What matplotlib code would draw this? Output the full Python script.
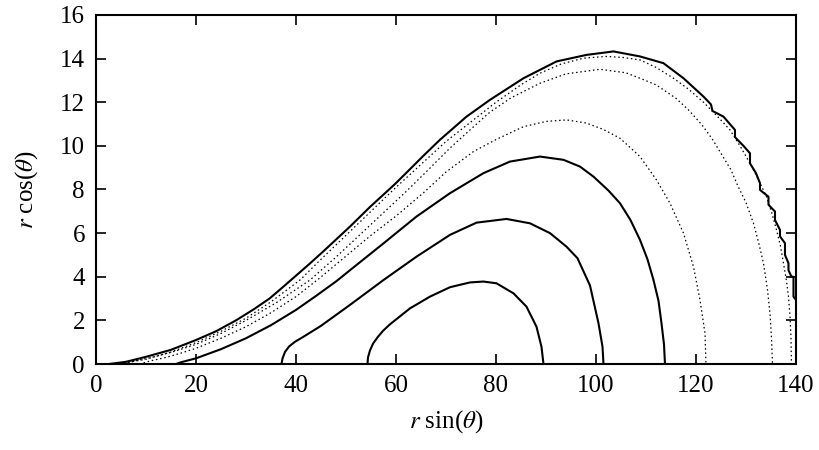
import matplotlib
matplotlib.use("Agg")
import matplotlib.pyplot as plt

plt.rcParams["font.family"] = ["Liberation Serif", "DejaVu Serif"]
plt.rcParams["mathtext.fontset"] = "stix"

# contour curves, inner to outer: (x = r sin, y = r cos)
c1_x = [54.3, 54.4, 54.8, 55.4, 56.3, 57.4, 58.8, 62.8, 66.8, 70.8, 74.8, 77.5, 80.1, 83.5, 86.1,
        88.1, 89.1, 89.5]
c1_y = [0, 0.3, 0.62, 0.93, 1.22, 1.52, 1.82, 2.55, 3.09, 3.52, 3.74, 3.78, 3.7, 3.24, 2.63,
        1.71, 0.79, 0]

c2_x = [37.1, 37.3, 37.8, 38.6, 39.8, 41.5, 45.0, 50.8, 57.5, 64.1, 70.8, 76.1, 82.1, 86.8, 90.8,
        94.1, 96.3, 98.8, 100.5, 101.3, 101.5]
c2_y = [0, 0.25, 0.55, 0.8, 1.02, 1.25, 1.75, 2.71, 3.85, 4.92, 5.92, 6.48, 6.65, 6.45, 6.0,
        5.38, 4.85, 3.6, 1.87, 0.8, 0]

c3_x = [16.0, 17.0, 20.0, 25.0, 30.0, 35.0, 40.0, 44.0, 48.1, 50.8, 57.5, 64.1, 70.8, 77.5, 82.8,
        88.8, 93.5, 96.8, 99.5, 102.5, 104.8, 106.9, 108.8, 110.3, 111.5, 112.5, 113.1, 113.6, 113.8]
c3_y = [0, 0.08, 0.26, 0.68, 1.18, 1.78, 2.48, 3.12, 3.8, 4.3, 5.53, 6.76, 7.83, 8.75, 9.28,
        9.51, 9.36, 9.05, 8.59, 7.95, 7.37, 6.6, 5.69, 4.8, 3.85, 2.9, 1.87, 0.9, 0]

c4_x = [8.7, 11.0, 14.0, 17.0, 20.0, 25.0, 30.0, 35.0, 40.0, 44.8, 50.8, 55.0, 60.1, 65.5, 70.0,
        75.5, 80.1, 85.5, 90.0, 94.1, 98.0, 101.5, 104.8, 108.8, 112.1, 114.8, 117.5, 119.5,
        120.8, 121.8, 122.0]
c4_y = [0, 0.15, 0.3, 0.5, 0.72, 1.18, 1.71, 2.35, 3.09, 3.95, 5.1, 5.9, 6.8, 7.85, 8.8,
        9.74, 10.3, 10.88, 11.12, 11.19, 11.05, 10.75, 10.35, 9.51, 8.44, 7.37, 6.0, 4.46,
        2.94, 1.41, 0]

c5_x = [5.5, 8.0, 12.0, 16.0, 20.0, 25.0, 30.0, 36.0, 42.8, 48.0, 55.0, 62.0, 66.0, 70.8, 74.8,
        78.8, 83.0, 88.8, 94.0, 100.8, 106.0, 108.8, 112.0, 116.0, 118.5, 121.2, 123.3, 125.2,
        127.0, 128.3, 130.0, 131.5, 132.6, 133.5, 134.3, 134.8, 135.1, 135.3]
c5_y = [0, 0.15, 0.35, 0.6, 0.9, 1.4, 2.0, 2.8, 3.85, 4.9, 6.4, 7.9, 8.8, 9.9, 10.73,
        11.55, 12.2, 12.87, 13.3, 13.51, 13.35, 13.1, 12.8, 12.18, 11.65, 10.96, 10.3, 9.58,
        8.9, 8.2, 7.4, 6.45, 5.5, 4.62, 3.4, 2.32, 1.2, 0]

c6_x = [4.0, 7.0, 10.0, 15.0, 20.0, 25.0, 30.0, 35.0, 40.8, 45.0, 50.0, 55.0, 60.0, 65.0, 70.0,
        75.5, 80.0, 85.0, 88.8, 93.0, 97.5, 102.0, 105.5, 108.8, 112.0, 115.5, 118.5, 121.5,
        124.5, 126.8, 128.8, 130.8, 132.5, 134.1, 135.2, 136.1, 136.9, 137.5, 138.1, 138.5,
        138.8, 139.0, 139.1]
c6_y = [0, 0.1, 0.22, 0.55, 0.98, 1.5, 2.1, 2.85, 3.85, 4.8, 5.9, 7.0, 8.1, 9.15, 10.2,
        11.19, 12.0, 12.8, 13.33, 13.75, 14.02, 14.1, 14.05, 13.94, 13.6, 13.1, 12.6, 12.0,
        11.3, 10.73, 10.0, 9.2, 8.45, 7.67, 6.9, 6.15, 5.4, 4.62, 3.8, 3.09,
        2.2, 1.2, 0]

outer_x = [2.6, 6.0, 10.0, 15.0, 20.0, 24.0, 28.0, 31.5, 34.7, 37.0, 39.5, 42.5, 45.5, 50.8, 54.8,
           59.8, 62.0, 65.5, 68.8, 74.1, 78.8, 85.5, 92.1, 98.1, 103.5, 108.8, 113.5, 117.5,
           121.5, 123.0, 123.3, 125.5, 127.8, 127.8, 129.5, 130.8, 130.8, 132.0, 132.8, 132.8,
           134.5, 134.5, 135.8, 135.8, 136.8, 136.8, 137.8, 137.8, 138.5, 138.5, 139.1, 139.5,
           139.5, 140.0]
outer_y = [0, 0.1, 0.33, 0.65, 1.1, 1.5, 2.0, 2.5, 3.0, 3.45, 3.95, 4.55, 5.17, 6.3, 7.2,
           8.25, 8.75, 9.55, 10.28, 11.34, 12.11, 13.1, 13.87, 14.17, 14.33, 14.1, 13.79, 13.1,
           12.26, 11.9, 11.6, 11.34, 10.73, 10.4, 10.0, 9.66, 9.2, 8.75, 8.29, 7.98,
           7.67, 7.3, 6.99, 6.6, 6.15, 5.85, 5.54, 5.0, 4.62, 4.3, 4.0, 4.0,
           3.09, 2.94]

solid = [(c1_x, c1_y), (c2_x, c2_y), (c3_x, c3_y), (outer_x, outer_y)]
dotted = [(c4_x, c4_y), (c5_x, c5_y), (c6_x, c6_y)]

fig = plt.figure(figsize=(8.19, 4.5), dpi=100)
ax = fig.add_axes([0.1172, 0.1911, 0.8547, 0.7756])

for xs, ys in solid:
    ax.plot(xs, ys, color="black", lw=1.5, solid_joinstyle="round")
for xs, ys in dotted:
    ax.plot(xs, ys, color="black", lw=0.9, linestyle=(0, (1.2, 2.2)))

ax.set_xlim(0, 140)
ax.set_ylim(0, 16)
ax.set_xticks(range(0, 141, 20))
ax.set_yticks(range(0, 17, 2))
ax.tick_params(direction="in", top=True, right=True, length=7, width=1.2, labelsize=18, pad=8)
for s in ax.spines.values():
    s.set_linewidth(1.5)

ax.set_xlabel(r"$r$ sin($\theta$)", fontsize=18, labelpad=8)
ax.set_ylabel(r"$r$ cos($\theta$)", fontsize=18, labelpad=14)

fig.savefig("out.png", dpi=100)
